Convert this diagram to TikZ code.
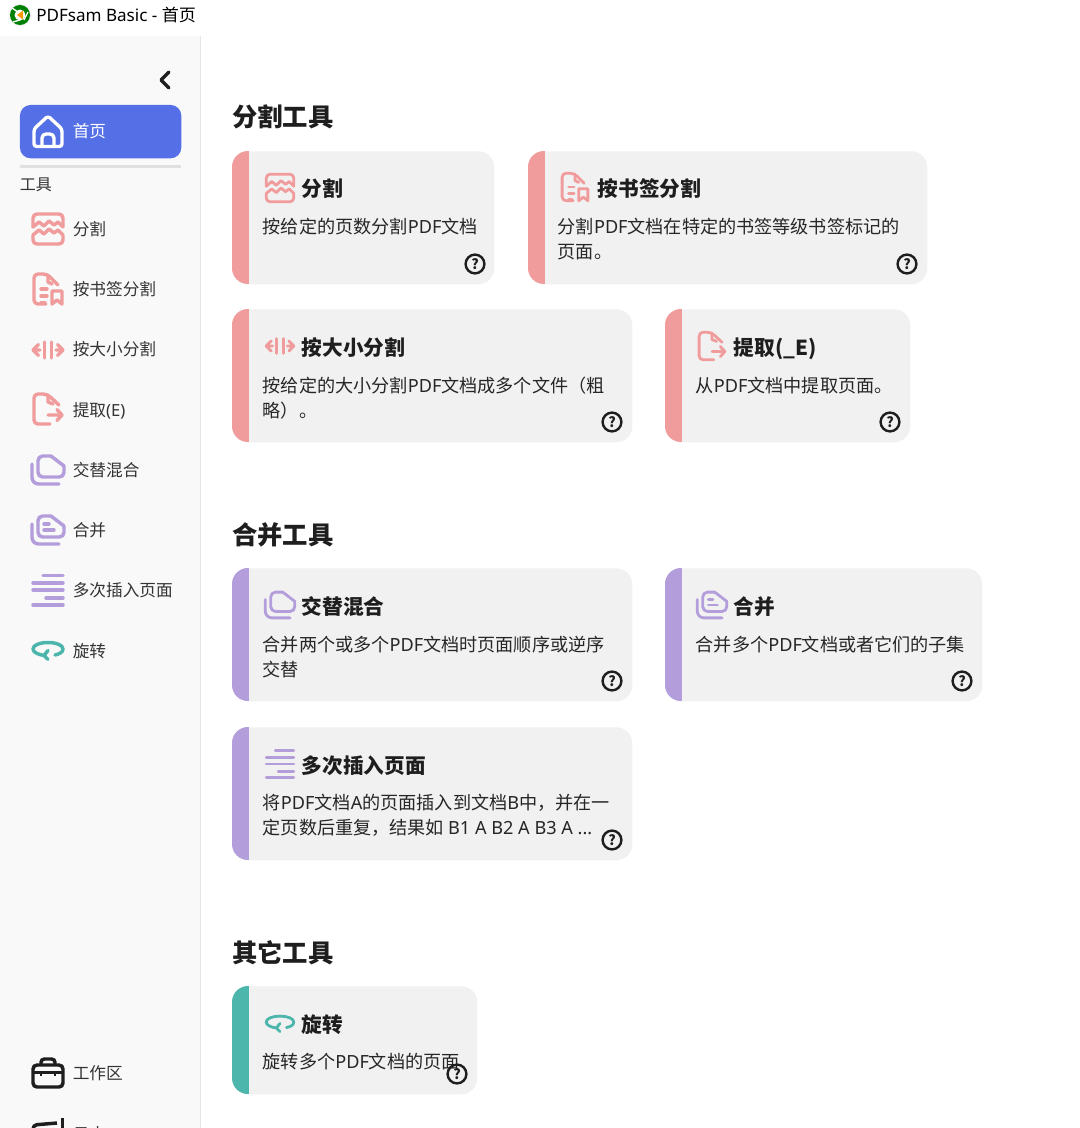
\documentclass[tikz,border=0pt]{standalone}
\usepackage{fontspec}
\setmainfont{Noto Sans CJK SC}
\newfontfamily\latf{Noto Sans}
\definecolor{sidebg}{HTML}{F9F9F9}
\definecolor{sideline}{HTML}{E6E6E6}
\definecolor{sepc}{HTML}{E0E0E0}
\definecolor{cardbg}{HTML}{F1F1F1}
\definecolor{btnblue}{HTML}{5570E6}
\definecolor{pinkc}{HTML}{F19C9C}
\definecolor{purpc}{HTML}{B39DDB}
\definecolor{tealc}{HTML}{4DB6AC}
\definecolor{inkc}{HTML}{1E1E1E}
\definecolor{sidetxt}{HTML}{333333}
\definecolor{bodytxt}{HTML}{262626}
\newcommand{\twolines}[2]{\vtop{\baselineskip=18.75pt\hbox{#1}\hbox{#2}}}
\newcommand{\lt}[1]{{\latf #1}}
\newcommand{\cardbox}[6]{% name, color, x1, y1, x2, y2
  \node[cardshape, minimum width={(#5-#3)*0.75pt}, minimum height={(#6-#4)*0.75pt}, anchor=north west] (#1) at (#3,#4) {};
  \begin{scope}
    \clip[rounded corners=12pt] (#3,#4) rectangle (#5,#6);
    \fill[#2] (#3,#4) rectangle (#3+17,#6);
  \end{scope}
}
\tikzset{
  cardshape/.style={fill=cardbg, draw=none, rounded corners=12pt, inner sep=0pt},
  sidelabel/.style={anchor=base west, inner sep=0pt, font=\fontsize{12.5pt}{15pt}\selectfont, text=sidetxt},
  sechead/.style={anchor=base west, inner sep=0pt, font=\fontsize{19pt}{22pt}\selectfont\bfseries, text=inkc},
  cardtitle/.style={anchor=base west, inner sep=0pt, font=\fontsize{15.5pt}{18pt}\selectfont\bfseries, text=inkc},
  cardtext/.style={anchor=base west, inner sep=0pt, font=\fontsize{13.6pt}{18.75pt}\selectfont, text=bodytxt},
  sideicon/.style={line width=2.6pt, line cap=round, line join=round},
  cardicon/.style={scale=.92, line width=2.1pt, line cap=round, line join=round},
  pics/isplit/.style={code={
    \draw[rounded corners=3pt] (-15,-2) -- (-15,-15) -- (15,-15) -- (15,-2);
    \draw (-15,-2) -- (-9,-7) -- (-4,-3) -- (1,-8) -- (6,-4) -- (10,-7) -- (15,-2);
    \draw (-15,6) -- (-9,1) -- (-4,5) -- (1,0) -- (6,4) -- (10,1) -- (15,6);
    \draw[rounded corners=3pt] (-15,6) -- (-15,15) -- (15,15) -- (15,6);
  }},
  pics/ibook/.style={code={
    \draw[rounded corners=3pt] (10,-4) -- (-1,-15) -- (-14,-15) -- (-14,15) -- (-2,15);
    \draw (0,-14) -- (0,-7) -- (4,-5);
    \draw (-7,0) -- (-1,0) (-7,7) -- (-1,7) (-7,14) -- (-3,14);
    \draw (4,2) -- (14,2) -- (14,15) -- (9,11) -- (4,15) -- cycle;
  }},
  pics/isize/.style={code={
    \draw (-3.5,-8) -- (-3.5,8) (3.5,-8) -- (3.5,8);
    \draw (-8,0) -- (-15,0) (-9.5,-5.5) -- (-15,0) -- (-9.5,5.5);
    \draw (8,0) -- (15,0) (9.5,-5.5) -- (15,0) -- (9.5,5.5);
  }},
  pics/iextract/.style={code={
    \draw[rounded corners=3pt] (2,15) -- (-14,15) -- (-14,-15) -- (-1,-15) -- (11,-4);
    \draw (0,-14) -- (0,-7) -- (5,-5);
    \draw (0,6) -- (14,6) (9,0.5) -- (14,6) -- (9,11.5);
  }},
  pics/ialt/.style={code={
    \draw[rounded corners=5pt] (-16,-6) -- (-16,14) -- (11,14);
    \draw[rounded corners=3.5pt] (3,-14) -- (-10,-14) -- (-10,7) -- (16,7) -- (16,-4);
    \draw (3,-14) -- (16,-4);
  }},
  pics/imerge/.style={code={
    \draw[rounded corners=5pt] (-16,-6) -- (-16,14) -- (11,14);
    \draw[rounded corners=3.5pt] (3,-14) -- (-10,-14) -- (-10,7) -- (16,7) -- (16,-4);
    \draw (3,-14) -- (16,-4);
    \draw (-4,-6) -- (1,-6) (-4,0) -- (6,0);
  }},
  pics/imulti/.style={code={
    \draw (-5,-14.5) -- (15,-14.5);
    \draw (-15,-7) -- (15,-7);
    \draw (-15,0) -- (15,0);
    \draw (-2,8) -- (15,8);
    \draw (-15,15) -- (15,15);
  }},
  pics/irotate/.style={code={
    \draw (7,5) .. controls (11,4) and (15,2.5) .. (15,-1)
      .. controls (15,-5) and (8,-7.5) .. (0,-7.5)
      .. controls (-8,-7.5) and (-15,-5) .. (-15,-1)
      .. controls (-15,2.5) and (-9,5) .. (-3,5.5);
    \draw (0,0.5) -- (-4,5.5) -- (0,9.5);
  }},
  pics/ihelp/.style={code={
    \draw[inkc, line width=1.8pt] (0,0) circle[radius=9.4];
    \node[inner sep=0pt, text=inkc, font=\fontsize{10.5pt}{11pt}\selectfont\bfseries] at (0,0) {?};
  }},
}
\begin{document}
\begin{tikzpicture}[x=0.75pt,y=-0.75pt]
\useasboundingbox (0,0) rectangle (1080,1128);
\clip (0,0) rectangle (1080,1128);
\fill[white] (0,0) rectangle (1080,1128);
% sidebar
\fill[sidebg] (0,36) rectangle (200,1128);
\draw[sideline, line width=1pt] (200.5,36) -- (200.5,1128);
% title bar
\fill[black!8] (20,15) circle[radius=11];
\fill[green!50!black] (20,15) circle[radius=10];
\fill[white] (20,15) circle[radius=5.5];
\fill[orange!80!yellow] (17,15) -- (23,10.5) -- (23,19.5) -- cycle;
\draw[white, line width=1pt] (12,8) -- (18,12) (28,12) -- (24,20) (13,22) -- (20,20);
\node[anchor=base west, inner sep=0pt, text=black, font=\fontsize{12.8pt}{15pt}\selectfont] (title) at (36,21) {\lt{PDFsam Basic - }首页};
% collapse chevron
\coordinate (chevA) at (169,72);
\coordinate (chevB) at (161,80);
\coordinate (chevC) at (169,88);
\draw[inkc, line width=2.4pt, line cap=round, line join=round] (chevA) -- (chevB) -- (chevC);
% home button
\node[fill=btnblue, rounded corners=8pt, minimum width=121pt, minimum height=40pt, inner sep=0pt, anchor=north west] (home) at (19.7,104.7) {};
\draw[white, line width=2.5pt, line join=round, rounded corners=2pt] (34,140) -- (34,129) -- (48,116) -- (62,129) -- (62,146.5) -- (34,146.5) -- cycle;
\draw[white, line width=2.5pt, line join=round, rounded corners=3pt] (42,146) -- (42,134) -- (54,134) -- (54,146);
\node[sidelabel, text=white] (homelabel) at (72.5,137.5) {首页};
\fill[sepc] (20,165) rectangle (181,168);
\node[sidelabel, font=\fontsize{12pt}{15pt}\selectfont] (tools) at (19.5,190.5) {工具};
% sidebar entries
\pic[sideicon, color=pinkc] (s1) at (48,229) {isplit};
\node[sidelabel] (l1) at (72.5,235.5) {分割};
\pic[sideicon, color=pinkc] (s2) at (48,289) {ibook};
\node[sidelabel] (l2) at (72.5,295.5) {按书签分割};
\pic[sideicon, color=pinkc] (s3) at (48,350) {isize};
\node[sidelabel] (l3) at (72.5,355.5) {按大小分割};
\pic[sideicon, color=pinkc] (s4) at (48,409) {iextract};
\node[sidelabel] (l4) at (72.5,416) {提取\lt{(E)}};
\pic[sideicon, color=purpc] (s5) at (48,470) {ialt};
\node[sidelabel] (l5) at (72.5,476) {交替混合};
\pic[sideicon, color=purpc] (s6) at (48,530) {imerge};
\node[sidelabel] (l6) at (72.5,536.5) {合并};
\pic[sideicon, color=purpc] (s7) at (48,590) {imulti};
\node[sidelabel] (l7) at (72.5,596.5) {多次插入页面};
\pic[sideicon, color=tealc] (s8) at (48,650) {irotate};
\node[sidelabel] (l8) at (72.5,657) {旋转};
% bottom entries
\draw[inkc, line width=2.6pt, rounded corners=3pt] (33,1065) rectangle (63,1087);
\draw[inkc, line width=2.6pt, rounded corners=2.5pt] (41,1065) -- (41,1059) -- (55,1059) -- (55,1065);
\draw[inkc, line width=2.2pt] (33,1072.5) -- (63,1072.5) (41,1072) -- (41,1076) (55,1072) -- (55,1076);
\node[sidelabel] (l9) at (72.5,1079.5) {工作区};
\draw[inkc, line width=2.6pt, rounded corners=3pt] (33,1140) -- (33,1125) -- (57,1123);
\draw[inkc, line width=2.6pt] (62.5,1118) -- (62.5,1135);
\node[sidelabel] (l10) at (72.5,1140) {日志};
% section heads
\node[sechead] (h1) at (232,126.5) {分割工具};
\node[sechead] (h2) at (232,544.5) {合并工具};
\node[sechead] (h3) at (232,962.5) {其它工具};
% cards
\cardbox{c1}{pinkc}{232}{151}{494}{284}
\pic[cardicon, color=pinkc] (i1) at (280,188) {isplit};
\node[cardtitle] (t1) at (301.5,196.5) {分割};
\node[cardtext] (d1) at (262.5,233) {按给定的页数分割\lt{PDF}文档};
\pic (q1) at (475,264) {ihelp};
\cardbox{c2}{pinkc}{528}{151}{927}{284}
\pic[cardicon, color=pinkc] (i2) at (575,187) {ibook};
\node[cardtitle] (t2) at (597.5,196.5) {按书签分割};
\node[cardtext] (d2) at (557.5,233) {\twolines{分割\lt{PDF}文档在特定的书签等级书签标记的}{页面。}};
\pic (q2) at (907,264) {ihelp};
\cardbox{c3}{pinkc}{232}{309}{632}{442}
\pic[cardicon, color=pinkc] (i3) at (280,346) {isize};
\node[cardtitle] (t3) at (301.5,355.5) {按大小分割};
\node[cardtext] (d3) at (262.5,392) {\twolines{按给定的大小分割\lt{PDF}文档成多个文件（粗}{略）。}};
\pic (q3) at (612,422) {ihelp};
\cardbox{c4}{pinkc}{665}{309}{910}{442}
\pic[cardicon, color=pinkc] (i4) at (712,346) {iextract};
\node[cardtitle] (t4) at (733.5,355.5) {提取(\_E)};
\node[cardtext] (d4) at (695.5,392) {从\lt{PDF}文档中提取页面。};
\pic (q4) at (890,422) {ihelp};
\cardbox{c5}{purpc}{232}{568}{632}{701}
\pic[cardicon, color=purpc] (i5) at (280,605) {ialt};
\node[cardtitle] (t5) at (301.5,614.5) {交替混合};
\node[cardtext] (d5) at (262.5,651) {\twolines{合并两个或多个\lt{PDF}文档时页面顺序或逆序}{交替}};
\pic (q5) at (612,681) {ihelp};
\cardbox{c6}{purpc}{665}{568}{982}{701}
\pic[cardicon, color=purpc] (i6) at (712,605) {imerge};
\node[cardtitle] (t6) at (733.5,614.5) {合并};
\node[cardtext] (d6) at (695.5,651) {合并多个\lt{PDF}文档或者它们的子集};
\pic (q6) at (962,681) {ihelp};
\cardbox{c7}{purpc}{232}{727}{632}{860}
\pic[cardicon, color=purpc] (i7) at (280,764) {imulti};
\node[cardtitle] (t7) at (301.5,773.5) {多次插入页面};
\node[cardtext] (d7) at (262.5,809.5) {\twolines{将\lt{PDF}文档\lt{A}的页面插入到文档\lt{B}中，并在一}{定页数后重复，结果如 \lt{B1 A B2 A B3 A ...}}};
\pic (q7) at (612,840) {ihelp};
\cardbox{c8}{tealc}{232}{986}{477}{1094}
\pic[cardicon, color=tealc] (i8) at (280,1023) {irotate};
\node[cardtitle] (t8) at (301.5,1032.5) {旋转};
\node[cardtext] (d8) at (262.5,1068.5) {旋转多个\lt{PDF}文档的页面};
\pic (q8) at (457,1074) {ihelp};
\end{tikzpicture}
\end{document}
